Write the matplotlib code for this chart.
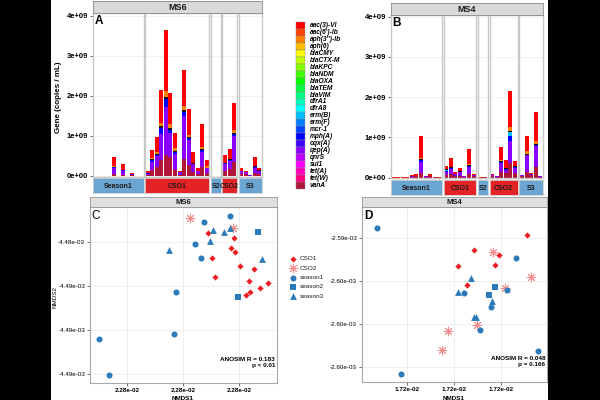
import numpy as np
import matplotlib.pyplot as plt
from matplotlib.patches import Rectangle

W, H = 600, 400
plt.rcParams['font.family'] = ['Liberation Sans', 'DejaVu Sans']

genes = ['aac(3)-VI', "aac(6')-Ib", "aph(3'')-Ib", 'aph(6)', 'blaCMY', 'blaCTX-M', 'blaKPC',
         'blaNDM', 'blaOXA', 'blaTEM', 'blaVIM', 'dfrA1', 'dfrA8', 'erm(B)', 'erm(F)', 'mcr-1',
         'mph(A)', 'oqx(A)', 'qep(A)', 'qnrS', 'sul1', 'tet(A)', 'tet(W)', 'vanA']
gene_colors = ['#FF0000', '#FF4000', '#FF8000', '#FFBF00', '#FFFF00', '#BFFF00', '#80FF00',
               '#40FF00', '#00FF00', '#00FF40', '#00FF80', '#00FFBF', '#00FFFF', '#00BFFF',
               '#0080FF', '#0040FF', '#0000FF', '#4000FF', '#8A00FF', '#BF00FF', '#FF00FF',
               '#FF00BF', '#FF0080', '#B0163A']
color_of = dict(zip(genes, gene_colors))

# ---- MS6 (panel A), values in 1e9 copies/mL ----
ms6_facets = ['Season1', 'CSO1', 'S2', 'CSO2', 'S3']
ms6_counts = [11, 14, 2, 3, 5]
ms6_vanA = [0.003, 0.003, 0.003, 0.003, 0.05, 0.003, 0.03, 0.003, 0.02, 0.003, 0.003,
            0.03, 0.15, 0.23, 0.40, 0.52, 0.48, 0.15, 0.02, 0.42, 0.28, 0.11, 0.06, 0.23, 0.07,
            0.003, 0.005,
            0.125, 0.175, 0.36,
            0.05, 0.04, 0.01, 0.07, 0.05]
ms6_qepA = [0, 0, 0, 0, 0.15, 0, 0.09, 0, 0.03, 0, 0,
            0.03, 0.21, 0.27, 0.65, 1.21, 0.60, 0.40, 0.08, 1.08, 0.63, 0.18, 0.07, 0.37, 0.12,
            0, 0.003,
            0.17, 0.20, 0.63,
            0.08, 0.05, 0.005, 0.13, 0.07]
ms6_mphA = [0, 0, 0, 0, 0.02, 0, 0.02, 0, 0, 0, 0,
            0.01, 0.03, 0.03, 0.14, 0.19, 0.08, 0.05, 0, 0.10, 0.03, 0.02, 0, 0.04, 0.01,
            0, 0,
            0.02, 0.02, 0.05,
            0, 0, 0, 0.02, 0.01]
ms6_blaTEM = [0, 0, 0, 0, 0.01, 0, 0.01, 0, 0.005, 0, 0,
              0.005, 0.03, 0.03, 0.06, 0.06, 0.05, 0.03, 0, 0.05, 0.03, 0.02, 0.005, 0.03, 0.01,
              0, 0,
              0.01, 0.02, 0.03,
              0.005, 0, 0, 0.02, 0.01]
ms6_aph3 = [0, 0, 0, 0, 0.02, 0, 0.01, 0, 0, 0, 0,
            0, 0.03, 0.04, 0.07, 0.15, 0.08, 0.06, 0, 0.10, 0.06, 0, 0, 0.06, 0.03,
            0, 0,
            0, 0, 0.08,
            0, 0, 0, 0, 0]
ms6_aac3 = [0.002, 0.002, 0.002, 0.002, 0.22, 0.002, 0.14, 0.002, 0.025, 0.002, 0.002,
            0.04, 0.19, 0.37, 0.83, 1.52, 0.78, 0.38, 0.02, 0.90, 0.65, 0.27, 0.06, 0.57, 0.16,
            0.002, 0.003,
            0.21, 0.25, 0.67,
            0.06, 0.04, 0.005, 0.23, 0.05]

# ---- MS4 (panel B) ----
ms4_facets = ['Season1', 'CSO1', 'S2', 'CSO2', 'S3']
ms4_counts = [11, 7, 2, 6, 5]
ms4_vanA = [0.002, 0.002, 0.002, 0.002, 0.025, 0.03, 0.11, 0.015, 0.03, 0.005, 0.002,
            0.07, 0.09, 0.05, 0.05, 0.01, 0.09, 0.03,
            0.002, 0.008,
            0.03, 0.015, 0.15, 0.12, 0.375, 0.11,
            0.035, 0.15, 0.055, 0.275, 0.015]
ms4_qepA = [0, 0, 0, 0, 0.02, 0.02, 0.28, 0.015, 0.02, 0.003, 0,
            0.08, 0.13, 0.05, 0.09, 0.02, 0.18, 0.03,
            0, 0.005,
            0.03, 0.015, 0.21, 0.08, 0.54, 0.14,
            0.02, 0.40, 0.04, 0.50, 0.015]
ms4_mphA = [0, 0, 0, 0, 0, 0, 0.04, 0, 0, 0, 0,
            0.02, 0.01, 0, 0.01, 0, 0.02, 0,
            0, 0,
            0, 0, 0.02, 0.02, 0.11, 0.01,
            0, 0.02, 0, 0.04, 0]
ms4_ermB = [0, 0, 0, 0, 0, 0, 0, 0, 0, 0, 0,
            0.03, 0, 0, 0, 0, 0, 0,
            0, 0,
            0, 0, 0, 0, 0.11, 0,
            0, 0, 0, 0, 0]
ms4_blaTEM = [0, 0, 0, 0, 0, 0, 0.02, 0, 0, 0, 0,
              0.01, 0.03, 0, 0.02, 0, 0.02, 0,
              0, 0,
              0, 0, 0.02, 0.02, 0.03, 0.02,
              0, 0.02, 0, 0.03, 0]
ms4_aph3 = [0, 0, 0, 0, 0, 0, 0.04, 0, 0, 0, 0,
            0, 0, 0, 0, 0, 0.02, 0,
            0, 0,
            0, 0, 0.03, 0, 0.10, 0,
            0, 0.06, 0, 0.06, 0]
ms4_aac3 = [0.001, 0.001, 0.001, 0.001, 0.03, 0.03, 0.54, 0.01, 0.04, 0.002, 0.001,
            0.08, 0.23, 0.05, 0.08, 0.0, 0.39, 0.03,
            0.001, 0.003,
            0.03, 0.01, 0.32, 0.20, 0.88, 0.13,
            0.02, 0.39, 0.03, 0.73, 0.01]

bar_yticks = [0, 1, 2, 3, 4]
bar_ylabels = ['0e+00', '1e+09', '2e+09', '3e+09', '4e+09']

# ---- NMDS points (x, y in axis tick units) ----
nmds_groups = ['CSO1', 'CSO2', 'season1', 'season2', 'season3']

ms6_cso1_x = [1.45, 1.91, 1.86, 1.93, 1.52, 2.02, 2.27, 1.58, 2.18, 2.52, 2.38, 2.20, 2.13]
ms6_cso1_y = [0.21, 0.10, -0.14, -0.23, -0.37, -0.53, -0.62, -0.80, -0.88, -0.93, -1.04, -1.14, -1.20]
ms6_cso2_x = [1.125, 1.89]
ms6_cso2_y = [0.54, 0.33]
ms6_s1_x = [1.38, 1.84, 1.21, 1.32, 0.875, 0.845, -0.50, -0.32]
ms6_s1_y = [0.47, 0.60, -0.05, -0.37, -1.14, -2.08, -2.19, -3.01]
ms6_s2_x = [2.34, 1.99]
ms6_s2_y = [0.24, -1.24]
ms6_s3_x = [1.54, 1.73, 1.84, 1.49, 0.755, 2.42]
ms6_s3_y = [0.27, 0.23, 0.33, 0.03, -0.175, -0.38]

ms4_cso1_x = [2.55, 1.43, 1.96, 1.88, 1.09, 1.28]
ms4_cso1_y = [0.06, -0.28, -0.40, -0.62, -0.66, -1.09]
ms4_cso2_x = [1.84, 2.64, 2.09, 1.49, 0.88, 0.75]
ms4_cso2_y = [-0.33, -0.90, -1.16, -2.02, -2.16, -2.60]
ms4_s1_x = [-0.63, 2.31, 1.21, 2.13, 1.79, 1.56, 2.79, -0.13]
ms4_s1_y = [0.22, -0.47, -1.29, -1.21, -1.60, -2.14, -2.62, -3.16]
ms4_s2_x = [1.87, 1.75]
ms4_s2_y = [-1.13, -1.33]
ms4_s3_x = [1.36, 1.09, 1.81, 1.43, 1.47]
ms4_s3_y = [-0.92, -1.25, -1.47, -1.84, -1.84]

ms6_xticklabels = ['2.28e-02'] * 3
ms6_yticklabels = ['-4.48e-03', '-4.49e-03', '-4.49e-03', '-4.49e-03']
ms4_xticklabels = ['1.72e-02'] * 3
ms4_yticklabels = ['-2.59e-03', '-2.60e-03', '-2.60e-03', '-2.60e-03']
nmds_xticks = [0, 1, 2]
nmds_yticks = [0, -1, -2, -3]

season_col = '#6BA5D2'
cso_col = '#E42326'
facet_col = {'Season1': season_col, 'S2': season_col, 'S3': season_col,
             'CSO1': cso_col, 'CSO2': cso_col}
blue = '#2B7BBA'
red = '#EE1D23'
pink = '#F28A8A'
nmds_style = {
    'CSO1': dict(marker='D', s=10, color=red, linewidths=0),
    'CSO2': dict(marker=(8, 2, 0), s=40, color=pink, linewidths=0.7),
    'season1': dict(marker='o', s=19, color=blue, linewidths=0),
    'season2': dict(marker='s', s=17, color=blue, linewidths=0),
    'season3': dict(marker='^', s=24, color=blue, linewidths=0),
}


def px_axes(fig, x0, y0, x1, y1):
    return fig.add_axes([x0 / W, 1 - y1 / H, (x1 - x0) / W, (y1 - y0) / H])


def strip(fig, x0, y0, x1, y1, text, fc, ec, size, weight='bold'):
    sx = px_axes(fig, x0, y0, x1, y1)
    sx.set_facecolor(fc)
    sx.set_xticks([])
    sx.set_yticks([])
    for s in sx.spines.values():
        s.set_color(ec)
        s.set_linewidth(0.6)
    sx.text(0.5, 0.45, text, transform=sx.transAxes, ha='center', va='center',
            fontsize=size, fontweight=weight, color='#1A1A1A')


def bar_panel(fig, box, top_strip, bot_strip, facets, counts, data, title, tag, ylim):
    x0, y0, x1, y1 = box
    gap = 1.6
    units = [n + 0.2 for n in counts]
    unit = (x1 - x0 - gap * (len(counts) - 1)) / sum(units)
    left = x0
    start = 0
    first = None
    for k, (name, n) in enumerate(zip(facets, counts)):
        w = units[k] * unit
        ax = px_axes(fig, left, y0, left + w, y1)
        xs = np.arange(1, n + 1)
        bottom = np.zeros(n)
        for g in genes[::-1]:
            if g not in data:
                continue
            v = np.array(data[g][start:start + n])
            # the thin minor-gene band reads as a dark outline in the original
            if g == 'blaTEM':
                ax.bar(xs, v, 0.88, bottom=bottom, color='#101010', linewidth=0)
            else:
                ax.bar(xs, v, 0.88, bottom=bottom, color=color_of[g], linewidth=0)
            bottom += v
        ax.set_xlim(0.4, n + 0.6)
        ax.set_ylim(*ylim)
        ax.set_xticks(xs)
        ax.set_xticklabels([])
        ax.tick_params(axis='x', length=1.5, width=0.4, color='#9A9A9A')
        if k == 0:
            ax.set_yticks(bar_yticks, bar_ylabels, fontsize=5.5, fontweight='bold')
            ax.tick_params(axis='y', length=2, width=0.5, color='#333333', pad=1.5)
            first = ax
        else:
            ax.set_yticks(bar_yticks)
            ax.set_yticklabels([])
            ax.tick_params(axis='y', length=0)
        ax.grid(axis='y', color='#EBEBEB', lw=0.5)
        ax.set_axisbelow(True)
        for s in ax.spines.values():
            s.set_color('#C8C8C8')
            s.set_linewidth(1.0)
        strip(fig, left, bot_strip[0], left + w, bot_strip[1], name,
              facet_col[name], '#D0D0D0', 5)
        left += w + gap
        start += n
    strip(fig, x0, top_strip[0], x1, top_strip[1], title, '#D9D9D9', '#8C8C8C', 6.5)
    first.text(0.03, 0.985, tag, transform=first.transAxes, ha='left', va='top',
               fontsize=8.5, fontweight='bold')


def nmds_panel(fig, box, strip_y, title, tag, pts, xlim, ylim, xlabels, ylabels, anosim):
    x0, y0, x1, y1 = box
    ax = px_axes(fig, x0, y0, x1, y1)
    for grp in nmds_groups:
        xs, ys = pts[grp]
        ax.scatter(xs, ys, zorder=3, **nmds_style[grp])
    ax.set_xlim(*xlim)
    ax.set_ylim(*ylim)
    ax.set_xticks(nmds_xticks, xlabels, fontsize=4.6, fontweight='bold')
    ax.set_yticks(nmds_yticks, ylabels, fontsize=4.5)
    ax.tick_params(length=2, width=0.5, color='#333333', pad=1.5)
    ax.grid(color='#EBEBEB', lw=0.6)
    ax.set_axisbelow(True)
    for s in ax.spines.values():
        s.set_color('#A8A8A8')
        s.set_linewidth(0.8)
    ax.text(0.01, 0.985, tag, transform=ax.transAxes, ha='left', va='top',
            fontsize=8.5, fontweight='bold' if tag == 'D' else 'normal')
    ax.text(0.99, 0.115, anosim[0] + '\n' + anosim[1], transform=ax.transAxes,
            ha='right', va='center', fontsize=4.6, fontweight='bold', linespacing=1.2)
    strip(fig, x0, strip_y[0], x1, strip_y[1], title, '#E0E0E0', '#9A9A9A', 5.5, 'bold')


fig = plt.figure(figsize=(6, 4), dpi=100, facecolor='black')
# white page area (behind everything)
bg = fig.add_axes([51 / W, 0, 497 / W, 1])
bg.set_facecolor('white')
bg.set_xticks([])
bg.set_yticks([])
for s in bg.spines.values():
    s.set_visible(False)

ms6_data = {'vanA': ms6_vanA, 'qep(A)': ms6_qepA, 'mph(A)': ms6_mphA, 'blaTEM': ms6_blaTEM,
            "aph(3'')-Ib": ms6_aph3, 'aac(3)-VI': ms6_aac3}
ms4_data = {'vanA': ms4_vanA, 'qep(A)': ms4_qepA, 'mph(A)': ms4_mphA, 'erm(B)': ms4_ermB,
            'blaTEM': ms4_blaTEM, "aph(3'')-Ib": ms4_aph3, 'aac(3)-VI': ms4_aac3}

bar_panel(fig, (93, 13, 262, 177), (1, 13), (178, 193), ms6_facets, ms6_counts,
          ms6_data, 'MS6', 'A', (-0.025, 4.075))
bar_panel(fig, (391, 15, 543, 178), (3, 15), (180, 195), ms4_facets, ms4_counts,
          ms4_data, 'MS4', 'B', (-0.01, 4.04))

ms6_pts = {'CSO1': (ms6_cso1_x, ms6_cso1_y), 'CSO2': (ms6_cso2_x, ms6_cso2_y),
           'season1': (ms6_s1_x, ms6_s1_y), 'season2': (ms6_s2_x, ms6_s2_y),
           'season3': (ms6_s3_x, ms6_s3_y)}
ms4_pts = {'CSO1': (ms4_cso1_x, ms4_cso1_y), 'CSO2': (ms4_cso2_x, ms4_cso2_y),
           'season1': (ms4_s1_x, ms4_s1_y), 'season2': (ms4_s2_x, ms4_s2_y),
           'season3': (ms4_s3_x, ms4_s3_y)}

nmds_panel(fig, (90, 207, 277, 383), (197, 207), 'MS6', 'C', ms6_pts, (-0.66, 2.68),
           (-3.2, 0.80), ms6_xticklabels, ms6_yticklabels, ('ANOSIM R = 0.183', 'p < 0.01'))
nmds_panel(fig, (362, 207, 547, 382), (197, 207), 'MS4', 'D', ms4_pts, (-0.96, 2.98),
           (-3.35, 0.72), ms4_xticklabels, ms4_yticklabels, ('ANOSIM R = 0.048', 'p = 0.166'))

# overlay in pixel coordinates for legends and axis titles
ov = fig.add_axes([0, 0, 1, 1])
ov.set_xlim(0, W)
ov.set_ylim(H, 0)
ov.axis('off')
ov.patch.set_alpha(0)

step = 6.93
for i, g in enumerate(genes):
    y = 22.3 + i * step
    ov.add_patch(Rectangle((296, y), 9, step, facecolor=color_of[g], edgecolor='#8A8A8A', lw=0.3))
    ov.text(309.5, y + step / 2, g, fontsize=4.8, fontweight='bold', style='italic',
            va='center', ha='left')

for i, grp in enumerate(nmds_groups):
    y = 259 + i * 9.3
    ov.scatter([293], [y], **nmds_style[grp])
    ov.text(299.5, y, grp, fontsize=4.6, va='center', ha='left', color='#1A1A1A')

ov.text(58, 97, 'Gene (copies / mL)', rotation=90, ha='center', va='center',
        fontsize=5.8, fontweight='bold')
ov.text(55, 297, 'NMDS2', rotation=90, ha='center', va='center', fontsize=4.5)
ov.text(183, 399, 'NMDS1', ha='center', va='center', fontsize=4.6, fontweight='bold')
ov.text(454, 399, 'NMDS1', ha='center', va='center', fontsize=4.6, fontweight='bold')

fig.savefig('out.png', dpi=100, facecolor='black')
